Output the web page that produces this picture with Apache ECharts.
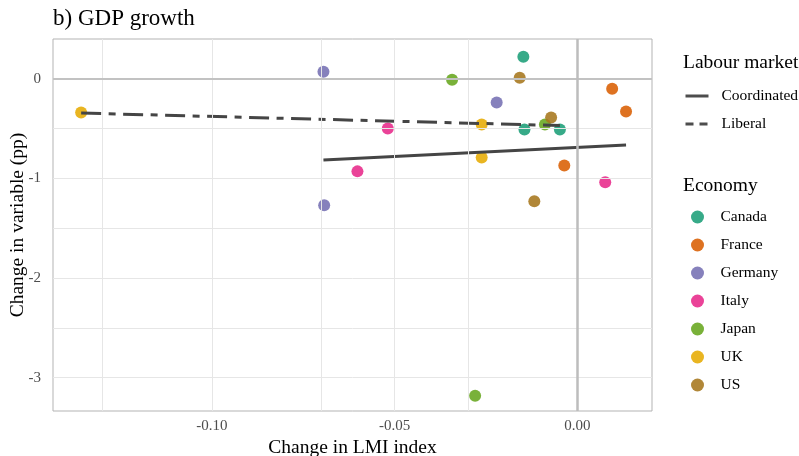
<!DOCTYPE html>
<html>
<head>
<meta charset="utf-8">
<script src="https://cdn.jsdelivr.net/npm/echarts@6/dist/echarts.min.js"></script>
<style>
  html, body { margin: 0; padding: 0; background: #fff; }
  #chart { width: 799px; height: 456px; }
</style>
</head>
<body>
<div id="chart"></div>
<script>
// economies + colours (Dark2)
const economies = ['Canada', 'France', 'Germany', 'Italy', 'Japan', 'UK', 'US'];
const ecoColors = ['#1b9e77', '#d95f02', '#7570b3', '#e7298a', '#66a61e', '#e6ab02', '#a6761d'];

// [change in LMI index, change in variable (pp)]
const canadaPts  = [[-0.0148, 0.22], [-0.0145, -0.51], [-0.0048, -0.51]];
const francePts  = [[0.0095, -0.10], [0.0133, -0.33], [-0.0036, -0.87]];
const germanyPts = [[-0.0695, 0.07], [-0.0221, -0.24], [-0.0693, -1.27]];
const italyPts   = [[-0.0519, -0.50], [-0.0602, -0.93], [0.0076, -1.04]];
const japanPts   = [[-0.0343, -0.01], [-0.0089, -0.46], [-0.0280, -3.18]];
const ukPts      = [[-0.1358, -0.34], [-0.0262, -0.46], [-0.0262, -0.79]];
const usPts      = [[-0.0158, 0.01], [-0.0072, -0.39], [-0.0118, -1.23]];
const ecoPts = [canadaPts, francePts, germanyPts, italyPts, japanPts, ukPts, usPts];

// fitted lines by labour market type
const coordinatedFit = [[-0.0695, -0.815], [0.0133, -0.665]];
const liberalFit     = [[-0.1358, -0.345], [-0.0048, -0.47]];

// axis ticks / grid
const xTicks = [-0.10, -0.05, 0.00];
const yTicks = [0, -1, -2, -3];
const xGrid  = [-0.125, -0.10, -0.075, -0.05, -0.025];
const yGrid  = [-0.5, -1, -1.5, -2, -2.5, -3];

const FONT = 'Liberation Serif';
const LINE_COLOR = '#454545';
const chart = echarts.init(document.getElementById('chart'), null, { renderer: 'canvas' });

const gridLines = []
  .concat(xGrid.map(v => ({ xAxis: v })))
  .concat(yGrid.map(v => ({ yAxis: v })));

const series = [];

// background grid + zero lines on a dummy series
series.push({
  name: '_grid', type: 'scatter', data: [], silent: true, z: 1,
  markLine: {
    silent: true, symbol: 'none', animation: false,
    label: { show: false },
    lineStyle: { color: '#e6e6e6', width: 1, type: 'solid' },
    data: gridLines
  }
});
series.push({
  name: '_zero', type: 'scatter', data: [], silent: true, z: 2,
  markLine: {
    silent: true, symbol: 'none', animation: false,
    label: { show: false },
    data: [
      { yAxis: 0, lineStyle: { color: '#c2c2c2', width: 2, type: 'solid' } },
      { xAxis: 0, lineStyle: { color: '#bdbdbd', width: 2.5, type: 'solid' } }
    ]
  }
});

economies.forEach((name, i) => {
  series.push({
    name: name, type: 'scatter', data: ecoPts[i], z: 3,
    symbol: 'circle', symbolSize: 12,
    itemStyle: { color: ecoColors[i], opacity: 0.88 }
  });
});

series.push({
  name: 'Coordinated', type: 'line', data: coordinatedFit, z: 4,
  symbol: 'none', lineStyle: { color: LINE_COLOR, width: 3, type: 'solid' },
  itemStyle: { color: LINE_COLOR }
});
series.push({
  name: 'Liberal', type: 'line', data: liberalFit, z: 4,
  symbol: 'none', lineStyle: { color: LINE_COLOR, width: 3, type: [20, 7.5, 7, 7.5] },
  itemStyle: { color: LINE_COLOR }
});

const titleStyle = { fontFamily: FONT, fontSize: 19.5, fontWeight: 'normal', color: '#000' };

chart.setOption({
  animation: false,
  backgroundColor: '#fff',
  textStyle: { fontFamily: FONT },
  title: [
    { text: 'b) GDP growth', left: 48, top: 2,
      textStyle: { fontFamily: FONT, fontSize: 23, fontWeight: 'normal', color: '#000' } },
    { text: 'Labour market', left: 678, top: 48, textStyle: titleStyle },
    { text: 'Economy', left: 678, top: 171, textStyle: titleStyle }
  ],
  grid: {
    left: 53, top: 39, right: 147, bottom: 45,
    outerBoundsMode: 'none',
    show: true, borderColor: '#b3b3b3', borderWidth: 1, backgroundColor: 'transparent'
  },
  legend: [
    {
      data: [
        { name: 'Coordinated', itemStyle: { opacity: 0 },
          lineStyle: { width: 3, color: '#4d4d4d' } },
        { name: 'Liberal', itemStyle: { opacity: 0 },
          lineStyle: { width: 3, color: '#4d4d4d', type: [8, 6] } }
      ],
      orient: 'vertical', left: 679, top: 83,
      itemWidth: 23, itemHeight: 14, itemGap: 12,
      selectedMode: false,
      textStyle: { fontFamily: FONT, fontSize: 15.5, lineHeight: 14, color: '#000', padding: [0, 0, 0, 8] }
    },
    {
      data: economies,
      icon: 'circle',
      orient: 'vertical', left: 686, top: 204,
      itemWidth: 36, itemHeight: 13, itemGap: 12,
      selectedMode: false,
      textStyle: { fontFamily: FONT, fontSize: 15.5, lineHeight: 13, color: '#000' }
    }
  ],
  xAxis: {
    type: 'value', min: -0.1435, max: 0.0204,
    name: 'Change in LMI index', nameLocation: 'middle', nameGap: 27, nameMoveOverlap: false,
    nameTextStyle: { fontFamily: FONT, fontSize: 19.5, color: '#000' },
    axisLine: { show: false },
    axisTick: { show: true, customValues: xTicks, length: 4, lineStyle: { color: '#b3b3b3' } },
    axisLabel: { customValues: xTicks, formatter: v => v.toFixed(2), fontFamily: FONT, fontSize: 15, color: '#4d4d4d', margin: 8 },
    splitLine: { show: false }
  },
  yAxis: {
    type: 'value', min: -3.334, max: 0.398,
    name: 'Change in variable (pp)', nameLocation: 'middle', nameGap: 25, nameRotate: 90, nameMoveOverlap: false,
    nameTextStyle: { fontFamily: FONT, fontSize: 19.5, color: '#000' },
    axisLine: { show: false },
    axisTick: { show: true, customValues: yTicks, length: 4, lineStyle: { color: '#b3b3b3' } },
    axisLabel: { customValues: yTicks, formatter: v => String(v), fontFamily: FONT, fontSize: 15, color: '#4d4d4d', margin: 12 },
    splitLine: { show: false }
  },
  series: series
});
</script>
</body>
</html>
